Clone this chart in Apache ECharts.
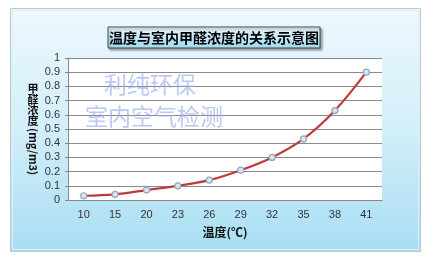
<!DOCTYPE html>
<html><head><meta charset="utf-8">
<script src="https://cdn.jsdelivr.net/npm/echarts@6/dist/echarts.min.js"></script>
<style>html,body{margin:0;padding:0;background:#fff}#c{width:430px;height:264px}</style>
</head><body><div id="c"></div>
<script>
var categories = ['10','15','20','23','26','29','32','35','38','41'];
var concentration = [0.03,0.04,0.07,0.10,0.14,0.21,0.30,0.43,0.63,0.90];
var yTicks = [0,0.1,0.2,0.3,0.4,0.5,0.6,0.7,0.8,0.9,1];
var titleText = '温度与室内甲醛浓度的关系示意图';
var xName = '温度(℃)';
var yNameCn = '甲\n醛\n浓\n度';
var yNameUnit = '(mg/m3)';
var watermark1 = '利纯环保';
var watermark2 = '室内空气检测';

var chart = echarts.init(document.getElementById('c'), null, {renderer:'canvas'});
var cjk = '"Noto Sans CJK SC", sans-serif';
chart.setOption({
  animation:false,
  graphic:[
    {type:'rect', z:-10, shape:{x:10.5,y:8.5,width:410,height:243},
     style:{fill:new echarts.graphic.LinearGradient(0,0,0,1,[{offset:0,color:'#eef9fd'},{offset:0.5,color:'#d2eef9'},{offset:1,color:'#a8def2'}]),stroke:'#b9c9d3',lineWidth:1}},
    {type:'rect', z:-9, shape:{x:12.5,y:10.5,width:406,height:239},
     style:{fill:'none',stroke:'#dfeef4',lineWidth:1}},
    {type:'rect', z:5, shape:{x:108,y:27,width:212,height:21},
     style:{fill:new echarts.graphic.LinearGradient(0,0,0,1,[{offset:0,color:'#eaf8fd'},{offset:1,color:'#9fdaf0'}]),stroke:'#444',lineWidth:1,
       shadowColor:'rgba(0,0,0,0.35)',shadowOffsetX:2,shadowOffsetY:2,shadowBlur:2}},
    {type:'text', z:6, style:{text:titleText,x:214,y:37.5,textAlign:'center',textVerticalAlign:'middle',font:'bold 14px '+cjk,fill:'#000'}},
    {type:'text', z:6, style:{text:yNameCn,x:33,y:84,textAlign:'center',font:'bold 11px '+cjk,fill:'#111',lineHeight:10.5}},
    {type:'text', z:6, rotation:-Math.PI/2, x:33, y:128, style:{text:yNameUnit,x:0,y:0,textAlign:'left',textVerticalAlign:'middle',font:'bold 11px '+cjk,fill:'#111'}},
    {type:'text', z:20, style:{text:watermark1,x:150,y:84,textAlign:'center',textVerticalAlign:'middle',font:'23px '+cjk,fill:'rgba(150,170,240,0.65)'}},
    {type:'text', z:20, style:{text:watermark2,x:154,y:116,textAlign:'center',textVerticalAlign:'middle',font:'23px '+cjk,fill:'rgba(150,170,240,0.65)'}}
  ],
  grid:{left:68,right:48,top:58,bottom:64,show:true,backgroundColor:'#ffffff',borderWidth:0},
  xAxis:{type:'category',data:categories,boundaryGap:true,
    axisLine:{lineStyle:{color:'#888'}},axisTick:{show:false},
    axisLabel:{color:'#333',fontSize:11,margin:9,fontFamily:'Liberation Sans, Arial'},
    name:xName,nameLocation:'middle',nameGap:26,
    nameTextStyle:{fontSize:12,fontWeight:'bold',color:'#111',fontFamily:cjk}},
  yAxis:{type:'value',min:yTicks[0],max:yTicks[yTicks.length-1],interval:0.1,
    axisLine:{show:true,lineStyle:{color:'#888'}},axisTick:{show:true,length:3,lineStyle:{color:'#888'}},
    axisLabel:{color:'#333',fontSize:11,margin:8,fontFamily:'Liberation Sans, Arial',
      formatter:function(v){return String(Math.round(v*10)/10);}},
    splitLine:{lineStyle:{color:'#8a8a8a',width:1}}},
  series:[{type:'line',data:concentration,smooth:0.35,
    lineStyle:{color:'#c0393b',width:2.2},
    symbol:'circle',symbolSize:6,
    itemStyle:{color:'#dfe3ea',borderColor:'#8ea7c4',borderWidth:1.2},
    z:10}]
});
</script></body></html>
